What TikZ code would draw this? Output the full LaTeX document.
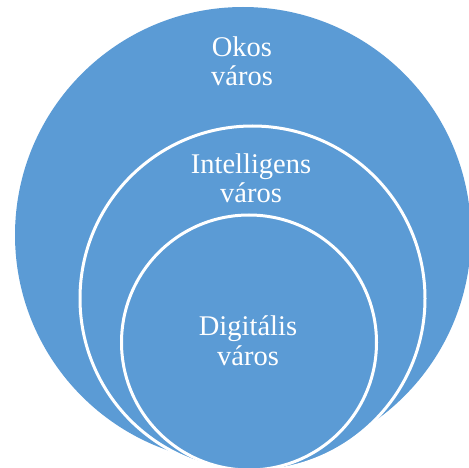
\documentclass[tikz,border=0pt]{standalone}
\usepackage{fontspec}
\setmainfont{Liberation Serif}
\definecolor{cblue}{HTML}{5B9BD5}
\begin{document}
\begin{tikzpicture}[x=1pt,y=1pt,
  ring/.style={fill=cblue,draw=white,line width=3pt},
  lbl/.style={text=white,align=center,font=\fontsize{28.5}{29.5}\selectfont,inner sep=0pt,anchor=base}]
\useasboundingbox (0,0) rectangle (469,-468);
\clip (0,0) rectangle (469,-468);
\fill[cblue] (243,-235) circle (228);
\draw[ring] (252.5,-298.5) circle (172.5);
\draw[ring] (249,-342.5) circle (127.5);
\node[lbl] (okos) at (242,-86) {Okos\\város};
\node[lbl] (intel) at (251,-203) {Intelligens\\város};
\node[lbl] (digit) at (248,-365) {Digitális\\város};
\end{tikzpicture}
\end{document}
